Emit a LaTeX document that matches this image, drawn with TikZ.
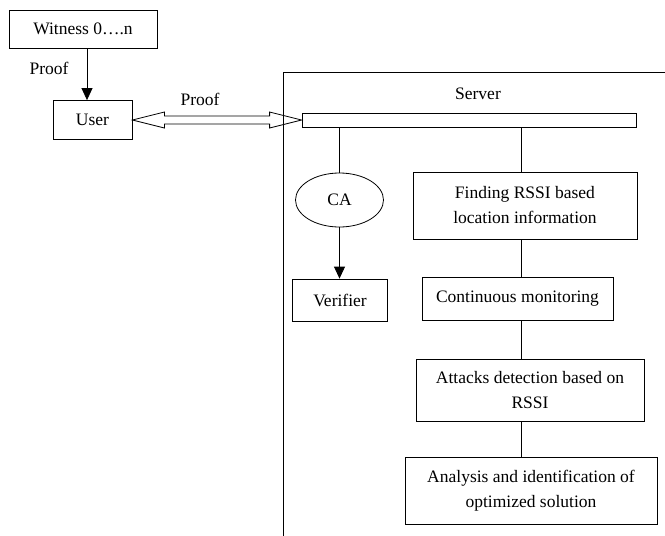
\documentclass[tikz,border=0pt]{standalone}
\usepackage{fontspec}
\setmainfont{Liberation Serif}
\usetikzlibrary{positioning,arrows.meta,shapes.geometric,calc}

\begin{document}
\begin{tikzpicture}[x=1pt,y=-1pt,line width=0.8pt,font=\fontsize{17.5}{25}\selectfont,
	box/.style={draw,rectangle,align=center,inner sep=0pt},
	lbl/.style={inner sep=0pt},
	tip/.style={-{Triangle[width=11pt,length=12pt]}}]
\useasboundingbox (0,0) rectangle (665,536);
% server frame
\draw[line width=1pt] (283,536) -- (283,72) -- (665,72);
\node[lbl] (server) at (478,94) {Server};
\node[box,minimum width=148pt,minimum height=38pt] (witness) at (83,29) {Witness 0….n};
\node[box,minimum width=79pt,minimum height=39pt] (user) at (92.5,120) {User};
\node[box,minimum width=334pt,minimum height=14pt] (bar) at (469,120) {};
\node[draw,ellipse,inner sep=0pt,minimum width=88pt,minimum height=54pt] (ca) at (339.5,200) {CA};
\node[box,minimum width=95pt,minimum height=42pt] (verifier) at (340,300) {Verifier};
\node[box,minimum width=224pt,minimum height=67pt] (finding) at (525,205.5) {Finding RSSI based\\location information};
\node[box,minimum width=191pt,minimum height=43pt] (monitor) at (517.5,298.5) {Continuous monitoring};
\node[box,minimum width=228pt,minimum height=62pt] (attacks) at (530,390) {Attacks detection based on\\RSSI};
\node[box,minimum width=252pt,minimum height=67pt] (analysis) at (531,490.5) {Analysis and identification of\\optimized solution};
\node[lbl] (proof1) at (49,68) {Proof};
\node[lbl] (proof2) at (200,99) {Proof};
\coordinate (spine) at (521,0);
% arrows
\draw[tip] ([xshift=4pt]witness.south) -- ([xshift=4pt]witness.south |- user.north);
\draw (user.east) -- ++(32,-8) -- ++(0,4) -- ($(bar.west)+(-32,-4)$) -- ++(0,-4) -- (bar.west)
	-- ++(-32,8) -- ++(0,-4) -- ($(user.east)+(32,4)$) -- ++(0,4) -- cycle;
\draw (ca.north) -- (ca.north |- bar.south);
\draw[tip] (ca.south) -- (ca.south |- verifier.north);
\foreach \a/\b in {bar/finding,finding/monitor,monitor/attacks,attacks/analysis}
	\draw (\a.south -| spine) -- (\b.north -| spine);
\end{tikzpicture}
\end{document}
